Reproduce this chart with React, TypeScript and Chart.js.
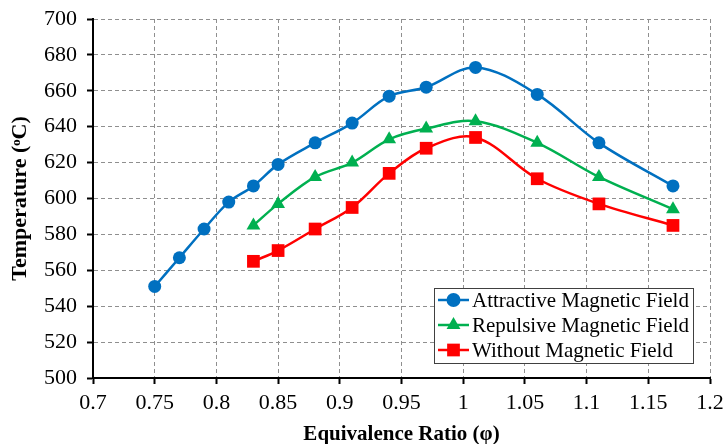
import React, { useEffect, useRef } from "react";
import { Chart, registerables } from "chart.js";

Chart.register(...registerables);

const attractiveX = [0.75, 0.77, 0.79, 0.81, 0.83, 0.85, 0.88, 0.91, 0.94, 0.97, 1.01, 1.06, 1.11, 1.17];
const attractiveY = [551, 567, 583, 598, 607, 619, 631, 642, 657, 662, 673, 658, 631, 607];
const repulsiveX = [0.83, 0.85, 0.88, 0.91, 0.94, 0.97, 1.01, 1.06, 1.11, 1.17];
const repulsiveY = [585, 597, 612, 620, 633, 639, 643, 631, 612, 594];
const withoutX = [0.83, 0.85, 0.88, 0.91, 0.94, 0.97, 1.01, 1.06, 1.11, 1.17];
const withoutY = [565, 571, 583, 595, 614, 628, 634, 611, 597, 585];
const seriesNames = ["Attractive Magnetic Field", "Repulsive Magnetic Field", "Without Magnetic Field"];
const xTitle = "Equivalence Ratio (φ)";
const yTitle = "Temperature (ᵒC)";

const FONT = "'Liberation Serif', 'Times New Roman', serif";

function pts(xs: number[], ys: number[]) {
  return xs.map((x, i) => ({ x, y: ys[i] }));
}

function drawMarker(ctx: CanvasRenderingContext2D, style: string, x: number, y: number, r: number, color: string) {
  ctx.save();
  ctx.fillStyle = color;
  ctx.beginPath();
  if (style === "circle") {
    ctx.arc(x, y, r, 0, Math.PI * 2);
  } else if (style === "triangle") {
    for (let i = 0; i < 3; i++) {
      const a = (i * 2 * Math.PI) / 3;
      const px = x + Math.sin(a) * r;
      const py = y - Math.cos(a) * r;
      if (i === 0) ctx.moveTo(px, py);
      else ctx.lineTo(px, py);
    }
    ctx.closePath();
  } else {
    const s = Math.SQRT1_2 * r;
    ctx.rect(x - s, y - s, 2 * s, 2 * s);
  }
  ctx.fill();
  ctx.restore();
}

const legendPlugin = {
  id: "insideLegend",
  afterDraw(chart: any) {
    const ctx = chart.ctx as CanvasRenderingContext2D;
    const left = 434.5, top = 288.5, w = 259, h = 75;
    ctx.save();
    ctx.fillStyle = "#ffffff";
    ctx.fillRect(left, top, w, h);
    ctx.strokeStyle = "#404040";
    ctx.lineWidth = 1;
    ctx.strokeRect(left, top, w, h);
    ctx.font = `21px ${FONT}`;
    ctx.textBaseline = "middle";
    chart.data.datasets.forEach((ds: any, i: number) => {
      const cy = 300 + i * 25;
      ctx.strokeStyle = ds.borderColor;
      ctx.lineWidth = 2.5;
      ctx.beginPath();
      ctx.moveTo(438, cy);
      ctx.lineTo(469, cy);
      ctx.stroke();
      drawMarker(ctx, ds.pointStyle, 453.5, cy, ds.pointRadius + (ds.pointStyle === "circle" ? 0.5 : 0), ds.borderColor);
      ctx.fillStyle = "#000000";
      ctx.fillText(ds.label, 472, cy + 1);
    });
    ctx.restore();
  },
};

export default function App() {
  const ref = useRef<HTMLCanvasElement | null>(null);
  useEffect(() => {
    if (!ref.current) return;
    Chart.defaults.font.family = FONT;
    Chart.defaults.color = "#000000";
    const colors = ["#0070C0", "#00B050", "#FF0000"];
    const styles = ["circle", "triangle", "rect"];
    const radii = [6.5, 8, 9];
    const data = [pts(attractiveX, attractiveY), pts(repulsiveX, repulsiveY), pts(withoutX, withoutY)];
    const gridOpts = {
      color: "#8F8F8F",
      lineWidth: 1,
      tickColor: "#000000",
      tickLength: 6,
      tickWidth: 2,
      tickBorderDash: [],
    };
    const chart = new Chart(ref.current, {
      type: "line",
      data: {
        datasets: data.map((d, i) => ({
          label: seriesNames[i],
          data: d,
          borderColor: colors[i],
          backgroundColor: colors[i],
          pointBackgroundColor: colors[i],
          pointBorderColor: colors[i],
          pointBorderWidth: 0,
          pointStyle: styles[i],
          pointRadius: radii[i],
          borderWidth: 2.5,
          tension: 0.35,
          fill: false,
        })),
      },
      options: {
        animation: false,
        responsive: false,
        layout: { padding: { top: 19, right: 14, left: 0, bottom: 0 } },
        plugins: { legend: { display: false }, tooltip: { enabled: false } },
        scales: {
          x: {
            type: "linear",
            min: 0.7,
            max: 1.2,
            ticks: {
              stepSize: 0.05,
              font: { size: 22 },
              padding: 6,
              maxRotation: 0,
              callback: (v: any) => String(Number(Number(v).toFixed(2))),
            },
            grid: gridOpts,
            border: { display: true, color: "#000000", width: 2, dash: [4, 3] },
            title: { display: true, text: xTitle, font: { size: 21, weight: "bold", lineHeight: 1 }, padding: { top: 0, bottom: -1 } },
            afterFit: (s: any) => { s.height = 66; s.paddingLeft = 0; s.paddingRight = 0; },
          },
          y: {
            min: 500,
            max: 700,
            ticks: { stepSize: 20, font: { size: 22 }, padding: 10 },
            grid: gridOpts,
            border: { display: true, color: "#000000", width: 2, dash: [4, 3] },
            title: { display: true, text: yTitle, font: { size: 22, weight: "bold" }, padding: { top: 7, bottom: 0 } },
            afterFit: (s: any) => { s.width = 93; s.paddingTop = 0; s.paddingBottom = 0; },
          },
        },
      },
      plugins: [legendPlugin],
    } as any);
    return () => chart.destroy();
  }, []);
  return (
    <div style={{ position: "absolute", left: 0, top: 0, width: 724, height: 444 }}>
      <canvas ref={ref} width={724} height={444} style={{ width: 724, height: 444 }} />
    </div>
  );
}
